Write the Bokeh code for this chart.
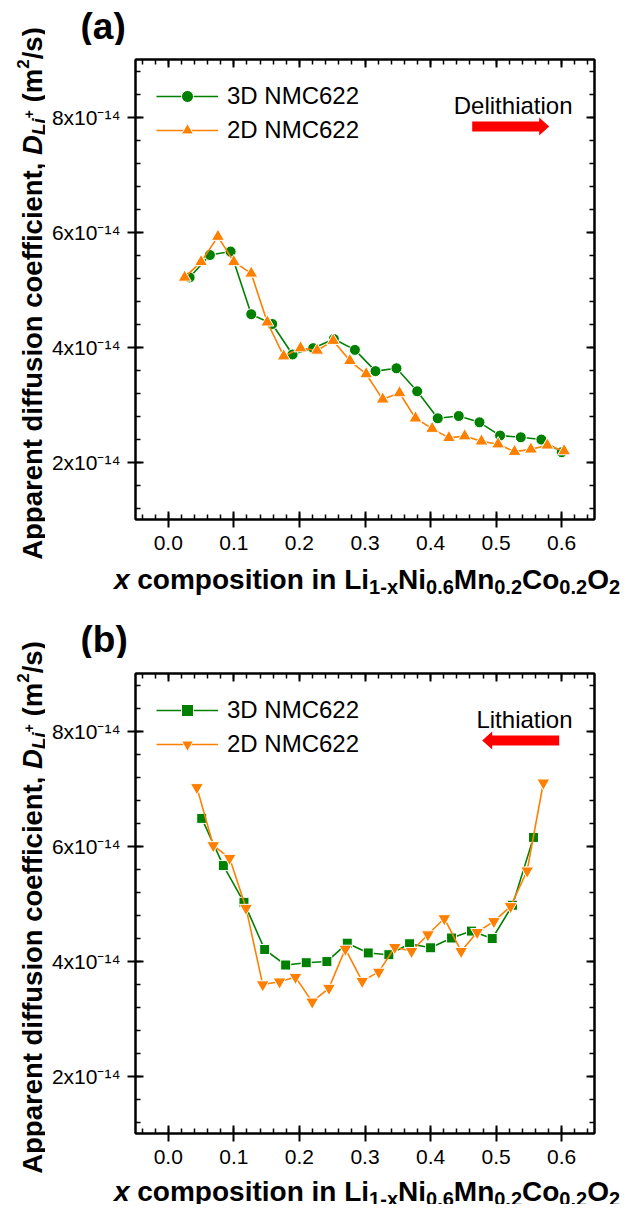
from bokeh.plotting import figure
from bokeh.models import (Label, Legend, LegendItem, LinearAxis, SingleIntervalTicker,
                          NumeralTickFormatter, CustomJSTickFormatter, PolyAnnotation, Range1d)
from bokeh.layouts import column, row
from bokeh.embed import file_html
from bokeh.resources import INLINE

# ---------------- data (D in units of 1e-14 m^2/s) ----------------
series_names = ["3D NMC622", "2D NMC622"]

a_x_3d = [0.0325, 0.0635, 0.095, 0.1265, 0.1585, 0.1895, 0.221, 0.2525, 0.2846, 0.316,
          0.348, 0.3796, 0.411, 0.443, 0.4746, 0.506, 0.5376, 0.569, 0.600]
a_D_3d = [5.21, 5.60, 5.66, 4.57, 4.40, 3.87, 3.98, 4.14, 3.95, 3.58,
          3.63, 3.23, 2.76, 2.80, 2.69, 2.46, 2.43, 2.39, 2.17]
a_x_2d = [0.025, 0.050, 0.0757, 0.100, 0.1265, 0.151, 0.176, 0.2017, 0.227, 0.2515, 0.277, 0.3018,
          0.327, 0.3527, 0.377, 0.4024, 0.428, 0.452, 0.4776, 0.503, 0.528, 0.553, 0.578, 0.6037]
a_D_2d = [5.21, 5.48, 5.92, 5.48, 5.28, 4.43, 3.84, 3.98, 3.94, 4.11, 3.76, 3.53,
          3.09, 3.20, 2.76, 2.58, 2.42, 2.45, 2.36, 2.31, 2.18, 2.22, 2.29, 2.19]

b_x_3d = [0.051, 0.084, 0.1154, 0.147, 0.179, 0.2104, 0.2419, 0.273, 0.305, 0.3364,
          0.368, 0.400, 0.432, 0.4624, 0.494, 0.525, 0.557]
b_D_3d = [6.48, 5.66, 5.02, 4.20, 3.93, 3.97, 3.99, 4.31, 4.14, 4.11,
          4.30, 4.23, 4.40, 4.52, 4.39, 4.97, 6.15]
b_x_2d = [0.0436, 0.0686, 0.0935, 0.1186, 0.144, 0.1697, 0.194, 0.2195, 0.245, 0.270, 0.2957,
          0.321, 0.3455, 0.371, 0.396, 0.421, 0.4466, 0.471, 0.4966, 0.522, 0.5473, 0.572]
b_D_2d = [7.02, 6.01, 5.79, 4.92, 3.59, 3.64, 3.72, 3.29, 3.53, 4.21, 3.65,
          3.81, 4.24, 4.17, 4.46, 4.74, 4.17, 4.50, 4.69, 4.95, 5.57, 7.10]

y_tick_vals = [2, 4, 6, 8]
y_tick_text = ["2x10\u207b\u00b9\u2074", "4x10\u207b\u00b9\u2074",
               "6x10\u207b\u00b9\u2074", "8x10\u207b\u00b9\u2074"]

# ---------------- style ----------------
FONT = "Liberation Sans"
GREEN = "#008000"
ORANGE = "#FF8000"
X0, X1 = -0.05, 0.65
Y0, Y1 = 1, 9
FW, FH = 459, 460
STRIP_W = 45          # left strip holding the rotated y title
MAIN_LB = 90          # left border of data figure (tick labels)
MAIN_RB = 26
MAIN_W = MAIN_LB + FW + MAIN_RB
LEG_SIZE = 24
YT_SIZE = 27.5

# Arial / Liberation Sans Bold advance widths (1/1000 em)
W = {' ': 278, '(': 333, ')': 333, '+': 584, ',': 278, '-': 333, '.': 278, '/': 278,
     'A': 722, 'C': 722, 'D': 722, 'L': 611, 'M': 833, 'N': 722, 'O': 778,
     'a': 556, 'c': 556, 'd': 611, 'e': 556, 'f': 333, 'i': 278, 'm': 889, 'n': 611,
     'o': 611, 'p': 611, 'r': 389, 's': 556, 't': 333, 'u': 611, 'x': 556}


def tw(text, size):
    return sum(W.get(ch, 556) for ch in text) * size / 1000.0


def lab(p, text, x, y, size, style="normal", align="left", baseline="alphabetic",
        angle=0.0, dx=0, dy=0, color="black"):
    p.add_layout(Label(x=x, y=y, x_offset=dx, y_offset=dy, text=text, text_font=FONT,
                       text_font_size=f"{size}px", text_font_style=style, text_align=align,
                       text_baseline=baseline, angle=angle, text_color=color))


def text_canvas(w, h):
    f = figure(frame_width=w, frame_height=h, x_range=Range1d(0, w), y_range=Range1d(h, 0),
               min_border=0, toolbar_location=None, output_backend="svg",
               x_axis_location=None, y_axis_location=None,
               background_fill_color="white", border_fill_color="white")
    f.outline_line_color = None
    f.grid.visible = False
    return f


def fpx(fx, fy):
    """frame-relative pixels (from left, from top) -> data"""
    return X0 + fx / FW * (X1 - X0), Y1 - fy / FH * (Y1 - Y0)


def style_axis(ax, labels, tick_out):
    ax.axis_line_width = 2
    ax.axis_line_color = "black"
    ax.major_tick_line_width = 2
    ax.minor_tick_line_width = 1.5
    ax.major_tick_in = 8
    ax.major_tick_out = tick_out
    ax.minor_tick_in = 5
    ax.minor_tick_out = 0
    ax.major_tick_line_color = "black"
    ax.minor_tick_line_color = "black"
    if labels:
        ax.major_label_text_font = FONT
        ax.major_label_text_font_size = "21px"
        ax.major_label_text_color = "black"
    else:
        ax.formatter = CustomJSTickFormatter(code="return ''")
        ax.major_label_text_font_size = "0px"
        ax.major_label_standoff = 0


def composite(fig, parts, x, y, vertical=False):
    """draw text pieces one after another; parts: (text, size, style, shift)"""
    cur = x if not vertical else y
    for t, s, st, sh in parts:
        stripped = t.lstrip(" ")
        cur += (tw(t, s) - tw(stripped, s)) * (-1 if vertical else 1)
        if vertical:
            lab(fig, stripped, x + sh, cur, s, style=st, angle=1.5707963267948966)
            cur -= tw(stripped, s)
        else:
            lab(fig, stripped, cur, y + sh, s, style=st)
            cur += tw(stripped, s)


def make_panel(tag, x3, d3, x2, d2, m3, m2, note, direction, top_h, btop, bbot, bot_h, xl_base):
    # ---------- data figure ----------
    p = figure(frame_width=FW, frame_height=FH, x_range=Range1d(X0, X1), y_range=Range1d(Y0, Y1),
               output_backend="svg", toolbar_location=None,
               min_border_left=MAIN_LB, min_border_right=MAIN_RB, min_border_top=btop,
               min_border_bottom=bbot, background_fill_color="white", border_fill_color="white")
    p.grid.visible = False
    p.outline_line_color = "black"
    p.outline_line_width = 2

    bx = p.xaxis[0]
    bx.ticker = SingleIntervalTicker(interval=0.1, num_minor_ticks=5)
    bx.formatter = NumeralTickFormatter(format="0.0")
    style_axis(bx, True, 8)
    bx.major_label_standoff = 8

    ly = p.yaxis[0]
    ly.ticker = SingleIntervalTicker(interval=2, num_minor_ticks=5)
    style_axis(ly, True, 8)
    ly.major_label_overrides = {float(v): t for v, t in zip(y_tick_vals, y_tick_text)}
    ly.major_label_standoff = 7

    top = LinearAxis(ticker=SingleIntervalTicker(interval=0.1, num_minor_ticks=5))
    style_axis(top, False, 0)
    p.add_layout(top, "above")
    right = LinearAxis(ticker=SingleIntervalTicker(interval=2, num_minor_ticks=5))
    style_axis(right, False, 0)
    p.add_layout(right, "right")

    gl = p.line(x3, d3, line_color=GREEN, line_width=1.6)
    gs = p.scatter(x3, d3, marker=m3, size=11 if m3 == "circle" else 10,
                   fill_color=GREEN, line_color="white", line_width=1)
    ol = p.line(x2, d2, line_color=ORANGE, line_width=1.6)
    os_ = p.scatter(x2, d2, marker=m2, size=13, fill_color=ORANGE, line_color="white", line_width=1)

    leg = Legend(items=[LegendItem(label=series_names[0], renderers=[gl, gs]),
                        LegendItem(label=series_names[1], renderers=[ol, os_])],
                 location=(21, 374), glyph_width=62, glyph_height=30, label_height=30,
                 label_standoff=9, spacing=4, padding=0, margin=0,
                 border_line_color=None, background_fill_alpha=0,
                 label_text_font=FONT, label_text_font_size=f"{LEG_SIZE}px",
                 label_text_color="black")
    p.add_layout(leg)

    lab(p, note, X1, Y1, LEG_SIZE, align="right", dx=-22, dy=-46)
    if direction > 0:
        tail, tip = 336.7, 413.7
    else:
        tail, tip = 423.7, 346.7
    base = tip - 10 * direction
    cy = 67
    pts = [(tail, cy - 5), (base, cy - 5), (base, cy - 9), (tip, cy), (base, cy + 9),
           (base, cy + 5), (tail, cy + 5)]
    dpts = [fpx(a, b) for a, b in pts]
    p.add_layout(PolyAnnotation(xs=[q[0] for q in dpts], ys=[q[1] for q in dpts],
                                xs_units="data", ys_units="data",
                                fill_color="red", fill_alpha=1, line_color=None))

    # ---------- top strip: panel tag ----------
    tfig = text_canvas(MAIN_W, top_h)
    lab(tfig, tag, 35, top_h - 19, 37, style="bold")

    # ---------- bottom strip: x title ----------
    bfig = text_canvas(MAIN_W, bot_h)
    xparts = [("x", 28, "bold italic", 0), (" composition in Li", 28, "bold", 0),
              ("1-x", 20, "bold", 7), ("Ni", 28, "bold", 0), ("0.6", 20, "bold", 7),
              ("Mn", 28, "bold", 0), ("0.2", 20, "bold", 7), ("Co", 28, "bold", 0),
              ("0.2", 20, "bold", 7), ("O", 28, "bold", 0), ("2", 20, "bold", 7)]
    total = sum(tw(t, s) for t, s, _, _ in xparts)
    composite(bfig, xparts, MAIN_LB + FW / 2 - total / 2 + 2, xl_base)

    # ---------- left strip: rotated y title ----------
    strip_h = top_h + btop + FH + bbot + bot_h
    lfig = text_canvas(STRIP_W, strip_h)
    yparts = [("Apparent diffusion coefficient, ", YT_SIZE, "bold", 0),
              ("D", YT_SIZE, "bold italic", 0),
              ("Li", 19, "bold italic", 6), ("+", 14, "bold", -4), (" (m", YT_SIZE, "bold", 0),
              ("2", 17, "bold", -10), ("/s)", YT_SIZE, "bold", 0)]
    total = sum(tw(t, s) for t, s, _, _ in yparts)
    centre = top_h + btop + FH / 2 + 4
    composite(lfig, yparts, 32, centre + total / 2, vertical=True)

    # wrap each piece in its own container so frames are not aligned across them
    inner = column(row(tfig), row(p), row(bfig), spacing=0)
    return row(lfig, inner, spacing=0)


pa = make_panel("(a)", a_x_3d, a_D_3d, a_x_2d, a_D_2d, "circle", "triangle",
                "Delithiation", +1, 45, 14, 43, 43, 17)
pb = make_panel("(b)", b_x_3d, b_D_3d, b_x_2d, b_D_2d, "square", "inverted_triangle",
                "Lithiation", -1, 53, 15, 43, 28, 15)

layout = column(pa, pb, spacing=0)
open("out.html", "w").write(file_html(layout, INLINE))
